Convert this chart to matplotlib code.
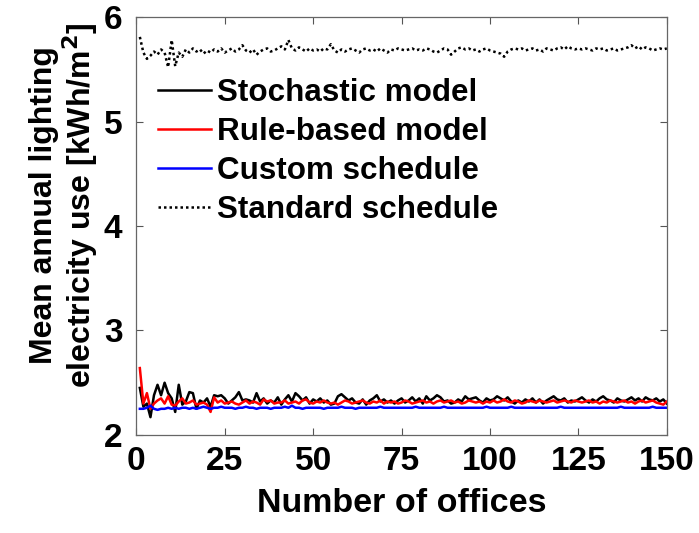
import matplotlib
matplotlib.use("Agg")
import matplotlib.pyplot as plt
import numpy as np

plt.rcParams["font.family"] = ["Liberation Sans", "DejaVu Sans"]
plt.rcParams["font.weight"] = "bold"
plt.rcParams["mathtext.default"] = "bf"

# ── data: mean annual lighting use vs. number of offices ──────────────────────
offices = np.arange(1, 151)

stochastic = [
    2.45, 2.27, 2.30, 2.17, 2.38, 2.48, 2.38, 2.50, 2.40, 2.35, 2.22, 2.48, 2.29, 2.32, 2.41, 2.40, 2.25, 2.33, 2.31, 2.35, 2.27, 2.38, 2.37, 2.38, 2.35,
    2.30, 2.33, 2.36, 2.41, 2.33, 2.34, 2.33, 2.31, 2.40, 2.32, 2.35, 2.30, 2.33, 2.31, 2.36, 2.29, 2.34, 2.38, 2.32, 2.40, 2.37, 2.33, 2.36, 2.30, 2.34,
    2.32, 2.35, 2.31, 2.33, 2.29, 2.30, 2.37, 2.39, 2.36, 2.33, 2.35, 2.31, 2.30, 2.34, 2.29, 2.33, 2.35, 2.38, 2.32, 2.34, 2.31, 2.33, 2.30, 2.33, 2.35,
    2.31, 2.33, 2.36, 2.32, 2.35, 2.30, 2.37, 2.33, 2.35, 2.38, 2.36, 2.32, 2.33, 2.30, 2.31, 2.34, 2.32, 2.37, 2.34, 2.35, 2.36, 2.33, 2.31, 2.35, 2.33,
    2.34, 2.37, 2.35, 2.33, 2.36, 2.32, 2.30, 2.33, 2.31, 2.34, 2.32, 2.35, 2.31, 2.34, 2.30, 2.33, 2.35, 2.37, 2.34, 2.33, 2.35, 2.31, 2.33, 2.32, 2.34,
    2.36, 2.33, 2.31, 2.34, 2.32, 2.35, 2.37, 2.34, 2.33, 2.31, 2.35, 2.33, 2.32, 2.34, 2.36, 2.33, 2.35, 2.32, 2.36, 2.34, 2.33, 2.35, 2.32, 2.34, 2.30,
]

rule_based = [
    2.64, 2.30, 2.40, 2.25, 2.30, 2.33, 2.35, 2.30, 2.37, 2.29, 2.28, 2.32, 2.35, 2.30, 2.31, 2.33, 2.29, 2.30, 2.31, 2.29, 2.22, 2.36, 2.31, 2.33, 2.30,
    2.31, 2.32, 2.30, 2.29, 2.31, 2.33, 2.30, 2.32, 2.31, 2.29, 2.34, 2.32, 2.33, 2.30, 2.31, 2.31, 2.33, 2.30, 2.31, 2.32, 2.30, 2.33, 2.34, 2.31, 2.30,
    2.32, 2.31, 2.33, 2.31, 2.30, 2.31, 2.29, 2.31, 2.33, 2.32, 2.30, 2.31, 2.32, 2.33, 2.31, 2.30, 2.32, 2.31, 2.33, 2.30, 2.32, 2.31, 2.32, 2.30, 2.31,
    2.33, 2.32, 2.30, 2.31, 2.32, 2.33, 2.31, 2.32, 2.30, 2.32, 2.33, 2.31, 2.32, 2.33, 2.31, 2.32, 2.30, 2.31, 2.33, 2.32, 2.31, 2.32, 2.30, 2.32, 2.31,
    2.33, 2.31, 2.32, 2.34, 2.32, 2.31, 2.33, 2.32, 2.30, 2.31, 2.33, 2.32, 2.31, 2.33, 2.32, 2.31, 2.32, 2.33, 2.31, 2.32, 2.33, 2.32, 2.31, 2.33, 2.32,
    2.31, 2.32, 2.33, 2.31, 2.32, 2.30, 2.32, 2.31, 2.33, 2.32, 2.31, 2.32, 2.33, 2.31, 2.32, 2.30, 2.32, 2.33, 2.31, 2.32, 2.33, 2.31, 2.30, 2.29, 2.32,
]

custom = [
    2.25, 2.25, 2.26, 2.28, 2.25, 2.24, 2.25, 2.25, 2.26, 2.25, 2.26, 2.25, 2.26, 2.26, 2.25, 2.26, 2.25, 2.26, 2.27, 2.26, 2.25, 2.26, 2.26, 2.27, 2.26,
    2.26, 2.26, 2.25, 2.26, 2.26, 2.27, 2.26, 2.26, 2.25, 2.26, 2.26, 2.26, 2.25, 2.26, 2.26, 2.26, 2.27, 2.26, 2.28, 2.26, 2.26, 2.25, 2.26, 2.26, 2.26,
    2.26, 2.26, 2.25, 2.26, 2.26, 2.26, 2.26, 2.27, 2.26, 2.26, 2.26, 2.25, 2.26, 2.26, 2.26, 2.26, 2.26, 2.26, 2.27, 2.26, 2.26, 2.26, 2.26, 2.26, 2.26,
    2.26, 2.26, 2.26, 2.27, 2.26, 2.26, 2.26, 2.26, 2.26, 2.26, 2.26, 2.27, 2.26, 2.26, 2.26, 2.26, 2.26, 2.26, 2.26, 2.26, 2.26, 2.26, 2.26, 2.27, 2.26,
    2.26, 2.26, 2.26, 2.26, 2.26, 2.27, 2.26, 2.26, 2.26, 2.26, 2.26, 2.26, 2.26, 2.26, 2.26, 2.26, 2.26, 2.26, 2.26, 2.27, 2.26, 2.26, 2.26, 2.26, 2.26,
    2.26, 2.26, 2.26, 2.26, 2.26, 2.26, 2.26, 2.26, 2.26, 2.26, 2.26, 2.27, 2.26, 2.26, 2.26, 2.26, 2.26, 2.26, 2.26, 2.26, 2.27, 2.26, 2.26, 2.26, 2.26,
]

standard = [
    5.81, 5.66, 5.60, 5.63, 5.67, 5.64, 5.69, 5.66, 5.52, 5.78, 5.53, 5.66, 5.62, 5.69, 5.66, 5.70, 5.67, 5.69, 5.65, 5.68, 5.66, 5.69, 5.67, 5.70, 5.66,
    5.68, 5.70, 5.67, 5.69, 5.73, 5.68, 5.66, 5.69, 5.64, 5.67, 5.69, 5.70, 5.67, 5.68, 5.70, 5.72, 5.69, 5.78, 5.70, 5.68, 5.71, 5.69, 5.67, 5.70, 5.68,
    5.69, 5.67, 5.70, 5.69, 5.74, 5.68, 5.66, 5.69, 5.67, 5.69, 5.70, 5.68, 5.66, 5.69, 5.70, 5.68, 5.69, 5.67, 5.70, 5.68, 5.66, 5.69, 5.68, 5.70, 5.69,
    5.68, 5.69, 5.70, 5.68, 5.69, 5.68, 5.70, 5.69, 5.67, 5.66, 5.68, 5.70, 5.69, 5.64, 5.67, 5.70, 5.71, 5.69, 5.70, 5.68, 5.69, 5.67, 5.69, 5.70, 5.68,
    5.67, 5.66, 5.65, 5.62, 5.67, 5.69, 5.70, 5.69, 5.70, 5.68, 5.69, 5.70, 5.68, 5.69, 5.67, 5.70, 5.69, 5.68, 5.70, 5.71, 5.69, 5.72, 5.70, 5.69, 5.70,
    5.69, 5.70, 5.69, 5.68, 5.70, 5.69, 5.70, 5.68, 5.69, 5.70, 5.68, 5.69, 5.70, 5.71, 5.73, 5.70, 5.72, 5.69, 5.71, 5.70, 5.68, 5.69, 5.70, 5.69, 5.70,
]

x_ticks = [0, 25, 50, 75, 100, 125, 150]
y_ticks = [2, 3, 4, 5, 6]

# ── figure ────────────────────────────────────────────────────────────────────
fig = plt.figure(figsize=(6.99, 5.33), dpi=100)
ax = fig.add_axes([0.195, 0.184, 0.759, 0.784])

ax.plot(offices, stochastic, color="black", lw=1.8, label="Stochastic model")
ax.plot(offices, rule_based, color="red", lw=1.8, label="Rule-based model")
ax.plot(offices, custom, color="blue", lw=1.8, label="Custom schedule")
ax.plot(offices, standard, color="black", lw=1.8, ls=(0, (1, 1.2)),
        label="Standard schedule")

ax.set_xlim(0, 150)
ax.set_ylim(2, 6)
ax.set_xticks(x_ticks)
ax.set_yticks(y_ticks)
ax.tick_params(direction="in", length=5, width=0.8, color="#555555",
               top=True, right=True, labelsize=24)
ax.tick_params(axis="x", pad=8)
ax.tick_params(axis="y", pad=10)
for s in ax.spines.values():
    s.set_color("#666666")
    s.set_linewidth(0.9)

ax.set_xlabel("Number of offices", fontsize=24.5, fontweight="bold", labelpad=8)
ax.set_ylabel("Mean annual lighting\nelectricity use [kWh/m$^2$]",
              fontsize=23, fontweight="bold", linespacing=1.05)
ax.yaxis.set_label_coords(-0.068, 0.55)

leg = ax.legend(loc="upper left", bbox_to_anchor=(0.041, 0.853), frameon=False,
                fontsize=22.6, handlelength=1.7, handletextpad=0.18,
                labelspacing=0.28, borderaxespad=0, borderpad=0)

fig.savefig("out.png", dpi=100)
